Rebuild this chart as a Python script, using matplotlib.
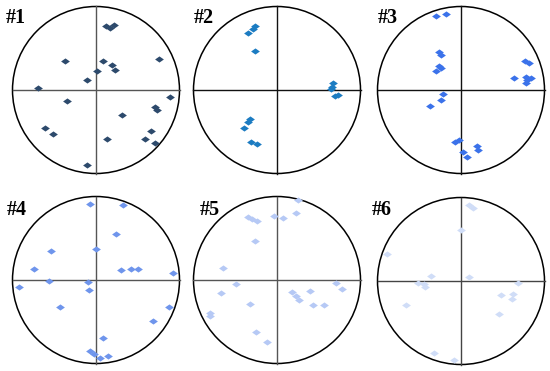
import numpy as np
import matplotlib
matplotlib.use("Agg")
import matplotlib.pyplot as plt
from matplotlib.patches import Circle
from matplotlib.path import Path

# normalised positions inside each unit circle (x, y)
p1_x = [0.12, 0.172, 0.22, -0.376, 0.08, 0.752, 0.188, 0.224, 0.016, -0.104, -0.692, 0.888,
        -0.352, 0.704, 0.736, 0.316, -0.608, -0.512, 0.656, 0.136, 0.588, 0.704, -0.112]
p1_y = [0.768, 0.744, 0.78, 0.348, 0.352, 0.372, 0.296, 0.244, 0.232, 0.116, 0.028, -0.084,
        -0.136, -0.208, -0.24, -0.3, -0.456, -0.528, -0.496, -0.592, -0.592, -0.632, -0.896]

p2_x = [-0.266, -0.282, -0.351, -0.262, 0.665, 0.653, 0.645, 0.694, 0.734,
        -0.323, -0.347, -0.395, -0.306, -0.242]
p2_y = [0.766, 0.726, 0.677, 0.472, 0.081, 0.04, 0.016, -0.069, -0.056,
        -0.343, -0.387, -0.452, -0.625, -0.645]

p3_x = [-0.295, -0.179, -0.259, -0.235, -0.267, -0.243, -0.299, 0.761, 0.809, 0.629, 0.781,
        0.837, 0.793, 0.773, -0.215, -0.235, -0.375, -0.068, -0.024, 0.191, 0.199, 0.024, 0.072]
p3_y = [0.888, 0.912, 0.45, 0.422, 0.291, 0.259, 0.227, 0.347, 0.323, 0.139, 0.159,
        0.147, 0.116, 0.08, -0.044, -0.12, -0.191, -0.625, -0.598, -0.669, -0.717, -0.745, -0.797]

p4_x = [-0.072, 0.32, 0.236, -0.544, 0.004, -0.748, 0.3, 0.42, 0.5, 0.928, -0.56,
        -0.092, -0.928, -0.08, -0.428, 0.88, 0.688, 0.084, -0.068, -0.028, 0.052, 0.14]
p4_y = [0.916, 0.9, 0.548, 0.348, 0.372, 0.136, 0.12, 0.132, 0.136, 0.08, -0.012,
        -0.024, -0.08, -0.12, -0.32, -0.324, -0.496, -0.692, -0.848, -0.884, -0.932, -0.908]

p5_x = [0.254, 0.222, -0.04, 0.073, -0.343, -0.294, -0.238, -0.262, -0.645, -0.496, -0.665,
        -0.323, -0.798, -0.806, 0.71, 0.774, 0.181, 0.222, 0.262, 0.395, 0.427, 0.565, -0.25, -0.117]
p5_y = [0.956, 0.802, 0.762, 0.742, 0.754, 0.73, 0.706, 0.464, 0.149, -0.052, -0.153,
        -0.29, -0.391, -0.431, -0.04, -0.109, -0.141, -0.194, -0.242, -0.129, -0.302, -0.294, -0.625, -0.738]

p6_x = [0.1, 0.148, -0.004, -0.888, -0.36, 0.096, -0.512, -0.444, -0.432, 0.688,
        0.48, 0.62, 0.608, -0.664, 0.456, -0.32, -0.08]
p6_y = [0.908, 0.88, 0.612, 0.328, 0.06, 0.052, -0.024, -0.04, -0.068, -0.024,
        -0.172, -0.16, -0.212, -0.292, -0.392, -0.864, -0.948]

labels = ["#1", "#2", "#3", "#4", "#5", "#6"]
colors = ["#2d4a6c", "#1c7cc2", "#3b72ea", "#6f95ec", "#b6c9f5", "#d0ddf7"]
cross_colors = ["#555555", "#111111", "#111111", "#555555", "#555555", "#444444"]
series = [(p1_x, p1_y), (p2_x, p2_y), (p3_x, p3_y), (p4_x, p4_y), (p5_x, p5_y), (p6_x, p6_y)]

W, H = 550, 371
centers = [(96, 90), (277, 90), (461, 90), (96, 280), (277, 280), (461, 281)]
label_pos = [(6, 23), (194, 23), (378, 23), (7, 215), (200, 215), (372, 215)]
R = 83.5

# flat diamond marker
diamond = Path([(-1, 0), (0, 0.7), (1, 0), (0, -0.7), (-1, 0)],
               [Path.MOVETO, Path.LINETO, Path.LINETO, Path.LINETO, Path.CLOSEPOLY])

fig = plt.figure(figsize=(W / 100, H / 100), dpi=100)
fig.patch.set_facecolor("white")

for i, (cx, cy) in enumerate(centers):
    ax = fig.add_axes([(cx - R) / W, (H - cy - R) / H, 2 * R / W, 2 * R / H])
    ax.set_xlim(-1, 1)
    ax.set_ylim(-1, 1)
    ax.axis("off")
    ax.plot([-1, 1], [0, 0], color=cross_colors[i], lw=1.0, clip_on=False)
    ax.plot([0, 0], [-1, 1], color=cross_colors[i], lw=1.0, clip_on=False)
    ax.add_patch(Circle((0, 0), 1, fill=False, ec="black", lw=1.1, clip_on=False))
    xs, ys = series[i]
    ax.scatter(xs, ys, marker=diamond, s=40, color=colors[i], lw=0, clip_on=False, zorder=3)
    lx, ly = label_pos[i]
    fig.text(lx / W, 1 - ly / H, labels[i], ha="left", va="baseline",
             fontsize=14.5, fontweight="bold", family="Liberation Serif")

fig.savefig("out.png", dpi=100)
